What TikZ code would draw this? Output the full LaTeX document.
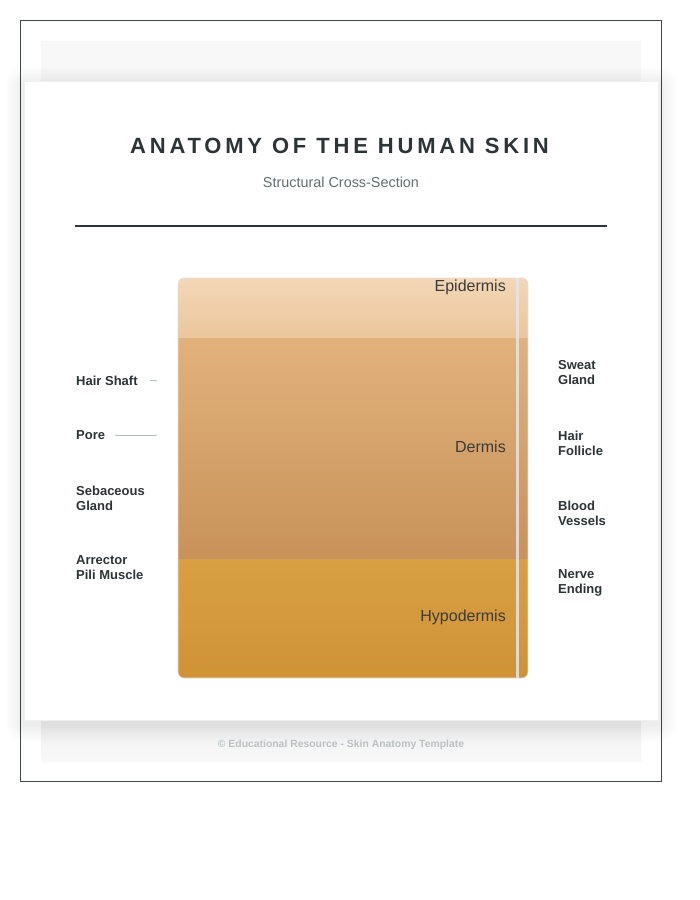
\documentclass[tikz,border=0pt]{standalone}
\usepackage{fontspec}
\setmainfont{Liberation Sans}
\usetikzlibrary{calc}
\definecolor{ink}{HTML}{2D3436}
\definecolor{subgray}{HTML}{636E72}
\definecolor{linegray}{HTML}{B2BEC3}
\definecolor{panel}{HTML}{F8F8F8}
\definecolor{epiT}{HTML}{F3D7B6}
\definecolor{epiB}{HTML}{EBC69C}
\definecolor{derT}{HTML}{E2B27C}
\definecolor{derB}{HTML}{C8925A}
\definecolor{hypT}{HTML}{D8A043}
\definecolor{hypB}{HTML}{CF9336}
\definecolor{layertext}{HTML}{3B3B3B}
\definecolor{footgray}{HTML}{B8C0C4}
\tikzset{
  lbl/.style={font=\fontsize{13}{15}\selectfont\bfseries, text=ink, align=left, anchor=west, inner sep=0pt},
  layer/.style={font=\fontsize{16}{19}\selectfont, text=layertext, anchor=east, inner sep=0pt},
  leader/.style={draw=linegray, line width=0.8pt},
}
\begin{document}
\begin{tikzpicture}[x=1pt,y=-1pt]
\useasboundingbox (0,0) rectangle (700,900);
\fill[white] (0,0) rectangle (700,900);
% outer frame
\draw[line width=1pt, draw=ink!90] (20.5,20.5) rectangle (661.5,781.5);
% gray panel
\fill[panel] (41,41) rectangle (641,761);
\shade[top color=gray!12, bottom color=panel] (41,720) rectangle (641,761);
% card shadow
\foreach \s in {2,4,...,18}{
  \fill[black, opacity=0.006, rounded corners=\s] (24-\s,81-\s+4) rectangle (658+\s,720+\s+4);
}
\fill[white, draw=black!6] (24,81) rectangle (658,720);
% title
\node[font=\fontsize{22}{26}\selectfont\bfseries\addfontfeatures{LetterSpace=17.3}, text=ink, inner sep=0pt] (title) at (339.5,146) {ANATOMY OF THE HUMAN SKIN};
\node[font=\fontsize{14.4}{17}\selectfont, text=subgray, inner sep=0pt] (sub) at (341,182) {Structural Cross-Section};
\draw[ink, line width=2pt] (75,226) coordinate (r1) -- (607,226) coordinate (r2);
% skin block
\begin{scope}
\clip[rounded corners=6] (178,278) rectangle (528,678);
\shade[top color=epiT, bottom color=epiB] (178,278) rectangle (528,338);
\shade[top color=derT, bottom color=derB] (178,338) rectangle (528,559);
\shade[top color=hypT, bottom color=hypB] (178,559) rectangle (528,678);
\draw[dashed, draw=brown!60, opacity=0.35, line width=0.8pt] (178,338) -- (528,338);
\draw[dashed, draw=brown!70, opacity=0.35, line width=0.8pt] (178,559) -- (528,559);
\fill[black!10!white, opacity=0.85] (516,278) rectangle (518.5,678);
\end{scope}
\draw[rounded corners=6, draw=black!12, line width=0.6pt] (178,278) rectangle (528,678);
\node[layer] (epi) at (506,287) {Epidermis};
\node[layer] (der) at (506,447) {Dermis};
\node[layer] (hyp) at (506,617) {Hypodermis};
% left labels
\node[lbl] (hair) at (76,380.5) {Hair Shaft};
\node[lbl] (pore) at (76,435.5) {Pore};
\node[lbl] (seb) at (76,498) {Sebaceous\\Gland};
\node[lbl] (arr) at (76,568) {Arrector\\Pili Muscle};
\coordinate (hairStart) at (150,380.5);
\coordinate (hairEnd) at (157,380.5);
\coordinate (poreStart) at (115,435.5);
\coordinate (poreEnd) at (157,435.5);
\draw[leader] (hairStart) -- (hairEnd);
\draw[leader] (poreStart) -- (poreEnd);
% right labels
\node[lbl] (sweat) at (558,373) {Sweat\\Gland};
\node[lbl] (foll) at (558,443) {Hair\\Follicle};
\node[lbl] (blood) at (558,513) {Blood\\Vessels};
\node[lbl] (nerve) at (558,583) {Nerve\\Ending};
% footer
\node[font=\fontsize{10.4}{12}\selectfont\bfseries, text=footgray, inner sep=0pt] (foot) at (341,745) {© Educational Resource - Skin Anatomy Template};
\end{tikzpicture}
\end{document}
